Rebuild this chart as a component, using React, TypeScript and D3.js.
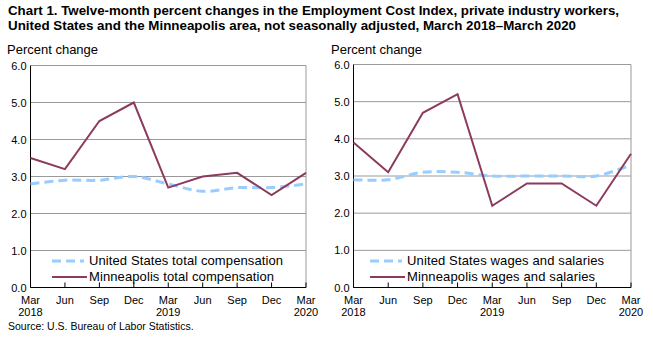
import React from "react";
import * as d3 from "d3";

const periods = ["Mar 2018", "Jun", "Sep", "Dec", "Mar 2019", "Jun", "Sep", "Dec", "Mar 2020"];
const tickLine1 = ["Mar", "Jun", "Sep", "Dec", "Mar", "Jun", "Sep", "Dec", "Mar"];
const tickLine2 = ["2018", "", "", "", "2019", "", "", "", "2020"];
const yTicks = [0, 1, 2, 3, 4, 5, 6];

const usTotalComp = [2.8, 2.9, 2.9, 3.0, 2.8, 2.6, 2.7, 2.7, 2.8];
const mplsTotalComp = [3.5, 3.2, 4.5, 5.0, 2.7, 3.0, 3.1, 2.5, 3.1];
const usWages = [2.9, 2.9, 3.1, 3.1, 3.0, 3.0, 3.0, 3.0, 3.3];
const mplsWages = [3.9, 3.1, 4.7, 5.2, 2.2, 2.8, 2.8, 2.2, 3.6];

const usLabelLeft = "United States total compensation";
const mplsLabelLeft = "Minneapolis total compensation";
const usLabelRight = "United States wages and salaries";
const mplsLabelRight = "Minneapolis wages and salaries";

const FONT = "'Liberation Sans', Arial, sans-serif";
const MAROON = "#8C3A5E";
const BLUE = "#99CCFF";
const GRID = "#9a9a9a";

type PanelProps = {
  x0: number; x1: number; y0: number; y1: number;
  us: number[]; mpls: number[]; usLabel: string; mplsLabel: string;
  labelX: number; legX: number; legTextX: number; usW: number; mplsW: number;
};

function Panel(p: PanelProps) {
  const x = d3.scaleLinear().domain([0, periods.length - 1]).range([p.x0, p.x1]);
  const y = d3.scaleLinear().domain([0, 6]).range([p.y0, p.y1]);
  const smooth = d3.line<number>().x((_, i) => x(i)).y((d) => y(d)).curve(d3.curveCatmullRom.alpha(0.5));
  const straight = d3.line<number>().x((_, i) => x(i)).y((d) => y(d));
  return (
    <g>
      <text x={p.labelX} y={54} fontSize={13} fontFamily={FONT} fill="#000">Percent change</text>
      {yTicks.map((t) => (
        <g key={t}>
          {t > 0 && <line x1={p.x0} x2={p.x1} y1={y(t)} y2={y(t)} stroke={GRID} strokeWidth={1} />}
          <text x={p.x0 - 4} y={y(t) + 4} textAnchor="end" fontSize={11} fontFamily={FONT} fill="#000">{t.toFixed(1)}</text>
        </g>
      ))}
      <line x1={p.x1} x2={p.x1} y1={y(6)} y2={y(0)} stroke={GRID} strokeWidth={1} />
      <line x1={p.x0} x2={p.x0} y1={y(6)} y2={y(0)} stroke="#000" strokeWidth={1} />
      <line x1={p.x0} x2={p.x1} y1={y(0)} y2={y(0)} stroke="#000" strokeWidth={1} />
      {periods.map((_, i) => (
        <g key={i}>
          <line x1={x(i)} x2={x(i)} y1={y(0)} y2={y(0) - 5} stroke="#000" strokeWidth={1} />
          <text x={x(i)} y={304} textAnchor="middle" fontSize={11} fontFamily={FONT} fill="#000">{tickLine1[i]}</text>
          {tickLine2[i] && (
            <text x={x(i)} y={316} textAnchor="middle" fontSize={11} fontFamily={FONT} fill="#000">{tickLine2[i]}</text>
          )}
        </g>
      ))}
      <path d={smooth(p.us) || ""} fill="none" stroke={BLUE} strokeWidth={3} strokeDasharray="9,5" />
      <path d={straight(p.mpls) || ""} fill="none" stroke={MAROON} strokeWidth={2} />
      <line x1={p.legX} x2={p.legX + 32} y1={261} y2={261} stroke={BLUE} strokeWidth={3} strokeDasharray="9,5" />
      <text x={p.legTextX} y={265} fontSize={13} fontFamily={FONT} fill="#000" textLength={p.usW} lengthAdjust="spacing">{p.usLabel}</text>
      <line x1={p.legX} x2={p.legX + 35} y1={277} y2={277} stroke={MAROON} strokeWidth={2} />
      <text x={p.legTextX} y={281} fontSize={13} fontFamily={FONT} fill="#000" textLength={p.mplsW} lengthAdjust="spacing">{p.mplsLabel}</text>
    </g>
  );
}

export default function App() {
  return (
    <svg width={653} height={339} style={{ position: "absolute", left: 0, top: 0, background: "#fff" }}>
      <rect width={653} height={339} fill="#fff" />
      <text x={8} y={15} fontSize={13} fontWeight="bold" fontFamily={FONT} textLength={611} lengthAdjust="spacingAndGlyphs">
        Chart 1. Twelve-month percent changes in the Employment Cost Index, private industry workers,
      </text>
      <text x={8} y={30} fontSize={13} fontWeight="bold" fontFamily={FONT} textLength={568} lengthAdjust="spacingAndGlyphs">
        United States and the Minneapolis area, not seasonally adjusted, March 2018–March 2020
      </text>
      <Panel x0={30.5} x1={306} y0={287.5} y1={65.5} us={usTotalComp} mpls={mplsTotalComp}
        usLabel={usLabelLeft} mplsLabel={mplsLabelLeft} labelX={7} legX={52} legTextX={89} usW={194} mplsW={185} />
      <Panel x0={353.5} x1={631} y0={287.5} y1={64.5} us={usWages} mpls={mplsWages}
        usLabel={usLabelRight} mplsLabel={mplsLabelRight} labelX={331} legX={370} legTextX={407} usW={197} mplsW={188} />
      <text x={8} y={330} fontSize={10.5} fontFamily={FONT} fill="#000">Source: U.S. Bureau of Labor Statistics.</text>
    </svg>
  );
}
